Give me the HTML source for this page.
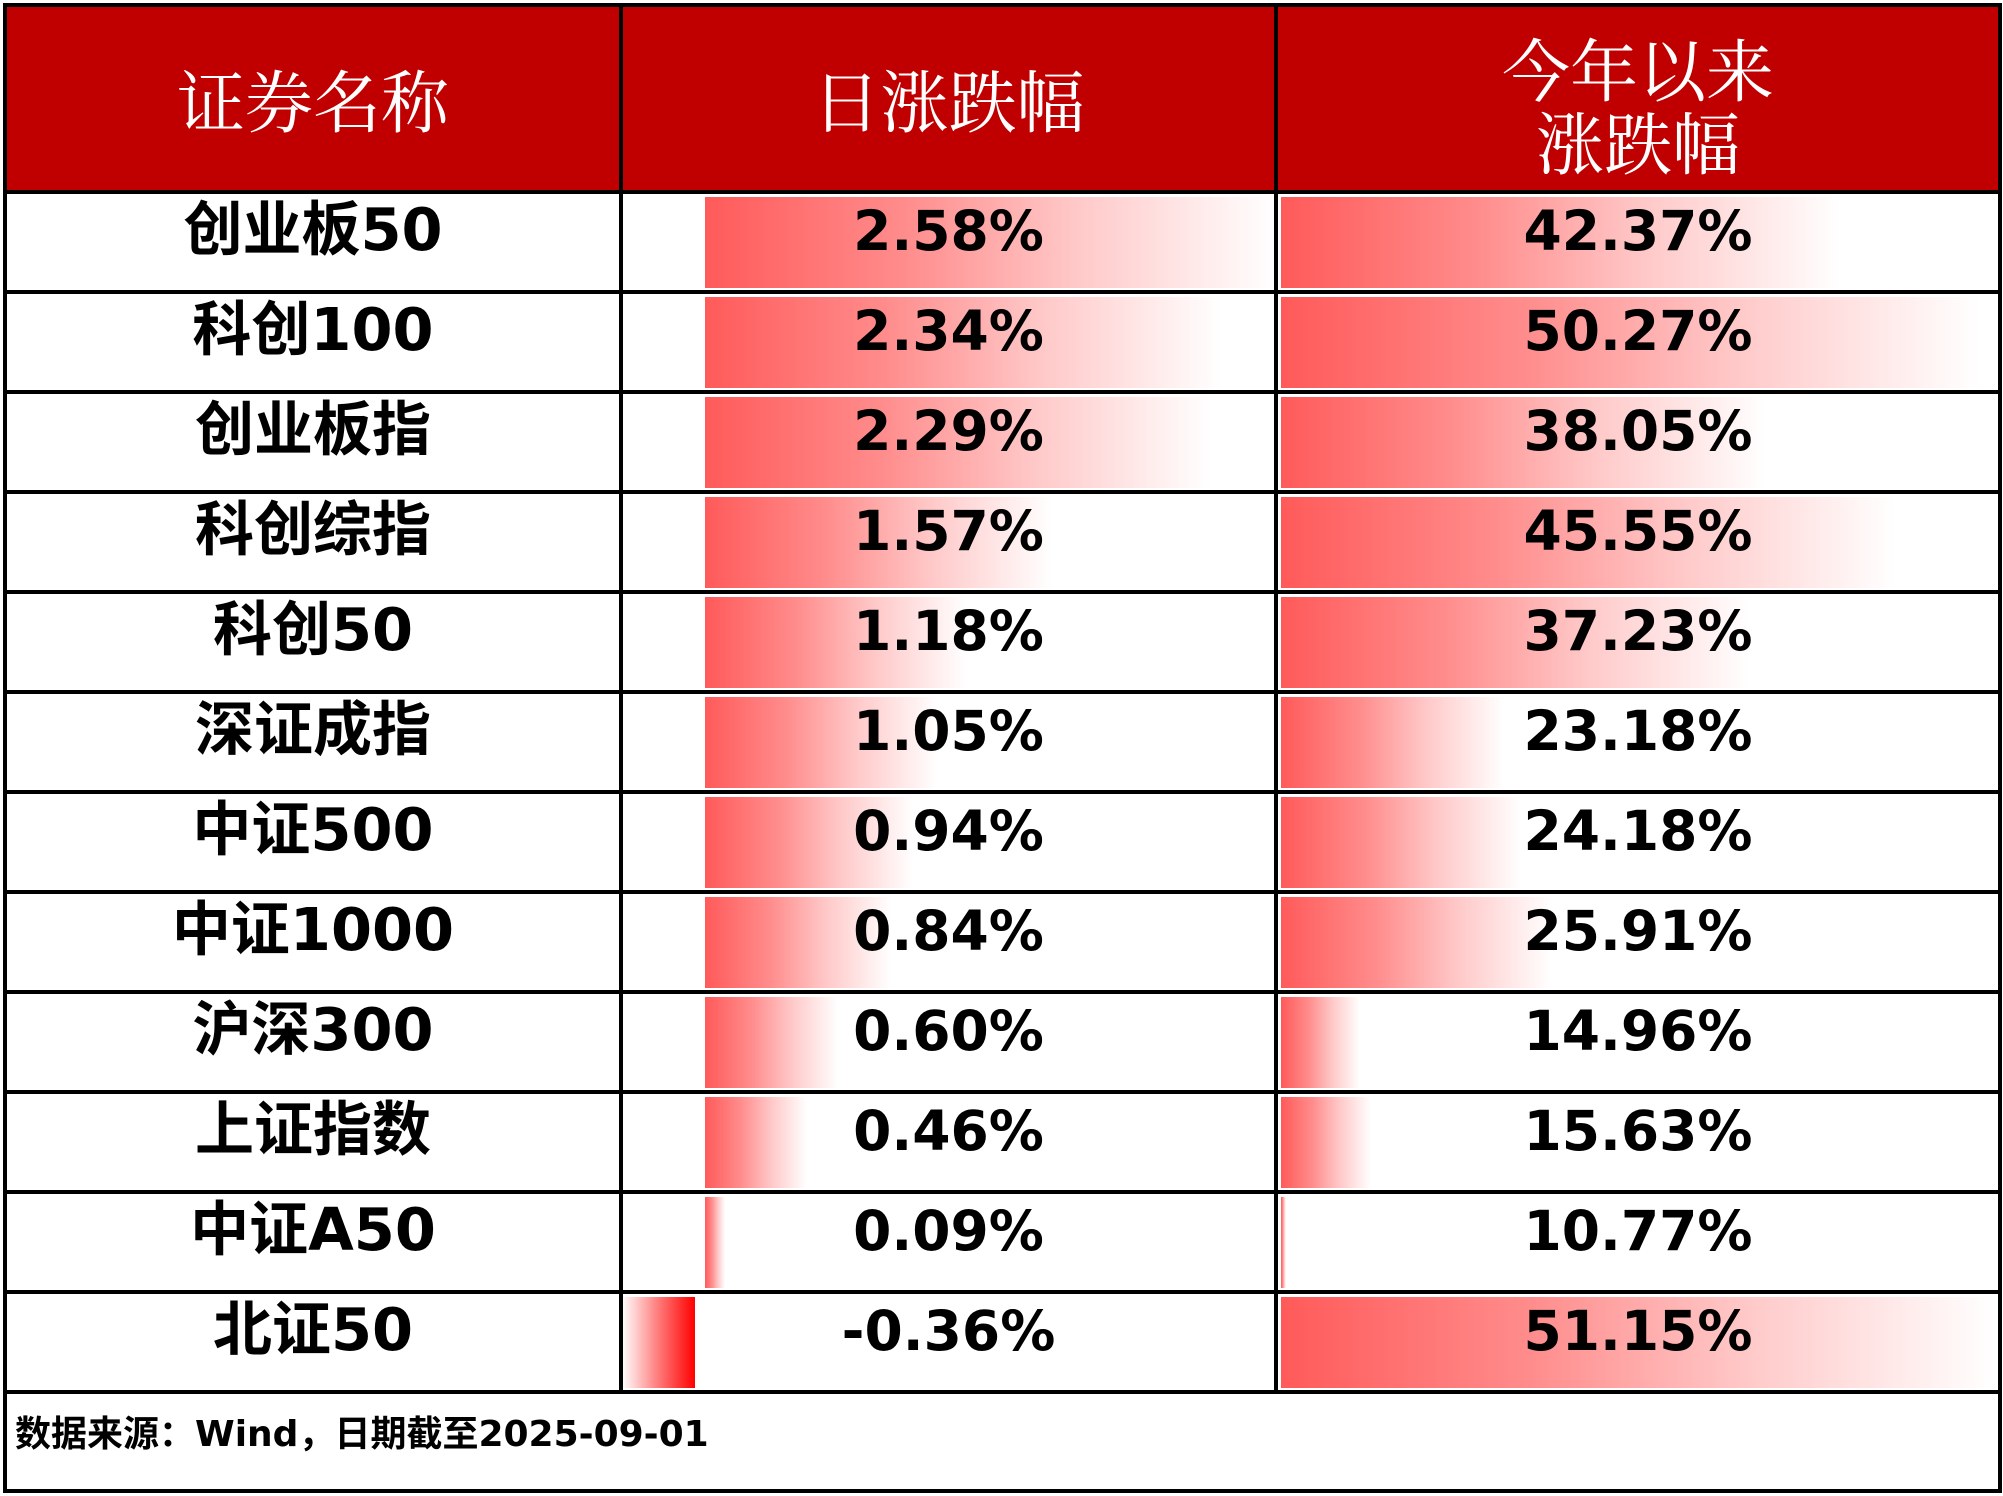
<!DOCTYPE html>
<html><head><meta charset="utf-8">
<style>
html,body{margin:0;padding:0;background:#fff;}
body{width:2003px;height:1496px;position:relative;overflow:hidden;font-family:"DejaVu Sans","Noto Sans CJK SC",sans-serif;}
.a{position:absolute;}
.hd{background:#C00000;}
.ht{position:absolute;color:#fff;font-family:"Noto Serif CJK SC","Noto Sans CJK SC",serif;font-size:68px;text-align:center;line-height:73px;}
.hl{position:absolute;background:#000;}
.t{position:absolute;font-weight:bold;font-size:55px;text-align:center;line-height:60px;color:#000;}
.n{font-size:59px;}
.bar{position:absolute;background:linear-gradient(to right,#ff5a5a 0%,#ff8c8c 35%,#ffc8c8 65%,#fff 100%);}
.neg{position:absolute;background:linear-gradient(to right,#fff 0%,#ff7a7a 50%,#ff0000 100%);}
</style></head><body>
<div class="a hd" style="left:5px;top:5px;width:1995px;height:187px;"></div>
<div class="ht" style="left:5px;width:616px;top:62px;">证券名称</div>
<div class="ht" style="left:621px;width:655px;top:62px;">日涨跌幅</div>
<div class="ht" style="left:1276px;width:724px;top:31px;">今年以来<br>涨跌幅</div>

<div id="rows"></div>
<script>
(function(){
var d=[["创业板50","2.58%",2.58,"42.37%",42.37],["科创100","2.34%",2.34,"50.27%",50.27],["创业板指","2.29%",2.29,"38.05%",38.05],["科创综指","1.57%",1.57,"45.55%",45.55],["科创50","1.18%",1.18,"37.23%",37.23],["深证成指","1.05%",1.05,"23.18%",23.18],["中证500","0.94%",0.94,"24.18%",24.18],["中证1000","0.84%",0.84,"25.91%",25.91],["沪深300","0.60%",0.60,"14.96%",14.96],["上证指数","0.46%",0.46,"15.63%",15.63],["中证A50","0.09%",0.09,"10.77%",10.77],["北证50","-0.36%",-0.36,"51.15%",51.15]];
var h="";
for(var i=0;i<12;i++){
 var y=192+i*100;
 var r=d[i];
 if(r[2]>0){var w=Math.max(6,221*r[2]);h+='<div class="bar" style="left:705px;top:'+(y+5)+'px;width:'+w+'px;height:91px;"></div>';}
 else{h+='<div class="neg" style="left:622px;top:'+(y+5)+'px;width:73px;height:91px;"></div>';}
 var w2=Math.max(5,17.55*(r[4]-10.48));
 h+='<div class="bar" style="left:1281px;top:'+(y+5)+'px;width:'+w2+'px;height:91px;"></div>';
 h+='<div class="t n" style="left:5px;width:616px;top:'+(y+8)+'px;">'+r[0]+'</div>';
 h+='<div class="t" style="left:621px;width:655px;top:'+(y+9)+'px;">'+r[1]+'</div>';
 h+='<div class="t" style="left:1276px;width:724px;top:'+(y+9)+'px;">'+r[3]+'</div>';
 h+='<div class="hl" style="left:5px;top:'+(y-2)+'px;width:1995px;height:4px;"></div>';
}
h+='<div class="hl" style="left:5px;top:1390px;width:1995px;height:4px;"></div>';
document.getElementById("rows").innerHTML=h;
})();
</script>
<div class="hl" style="left:3px;top:3px;width:1999px;height:4px;"></div>
<div class="hl" style="left:3px;top:1489px;width:1999px;height:4px;"></div>
<div class="hl" style="left:3px;top:3px;width:4px;height:1490px;"></div>
<div class="hl" style="left:1998px;top:3px;width:4px;height:1490px;"></div>
<div class="hl" style="left:619px;top:3px;width:4px;height:1390px;"></div>
<div class="hl" style="left:1274px;top:3px;width:4px;height:1390px;"></div>
<div class="a" style="left:15px;top:1413px;font-weight:bold;font-size:36px;line-height:44px;">数据来源：Wind，日期截至2025-09-01</div>
</body></html>
